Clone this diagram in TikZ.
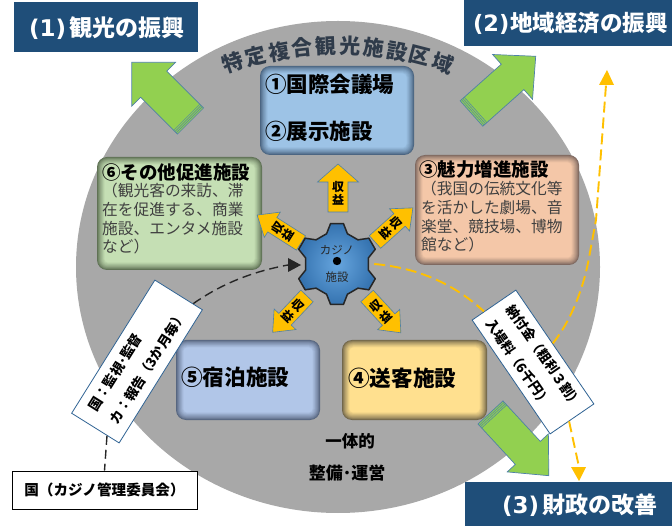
\documentclass[tikz,border=0pt]{standalone}
\usepackage{fontspec}
\setmainfont{Noto Sans CJK JP}
\newfontfamily\lat{DejaVu Sans}
\usetikzlibrary{calc}
\definecolor{navy}{HTML}{1F4E79}
\definecolor{disc}{HTML}{A8A8A8}
\definecolor{gar}{HTML}{92D050}
\definecolor{garline}{HTML}{4F81A8}
\definecolor{amber}{HTML}{FFC000}
\definecolor{slate}{HTML}{2F3B4A}
\definecolor{bodytx}{HTML}{404040}
\definecolor{labline}{HTML}{2E6293}
\definecolor{bluefill}{HTML}{9DC3E6}
\definecolor{blueedge}{HTML}{4A6480}
\definecolor{greenfill}{HTML}{C5DFB4}
\definecolor{greenedge}{HTML}{5E7054}
\definecolor{peachfill}{HTML}{F4C7A8}
\definecolor{peachedge}{HTML}{7D6860}
\definecolor{perifill}{HTML}{B1C6E8}
\definecolor{periedge}{HTML}{56647E}
\definecolor{creamfill}{HTML}{FFE08F}
\definecolor{creamedge}{HTML}{70654A}
\definecolor{gearin}{HTML}{66A5DE}
\definecolor{gearout}{HTML}{3573B0}
\newcommand{\fs}[1]{\fontsize{#1}{#1}\selectfont}
\tikzset{
  x=1pt,y=-1pt,
  banner/.style={fill=navy,draw=none},
  bannertx/.style={text=white,font=\bfseries\fs{23},inner sep=0pt,anchor=west},
  headtx/.style={text=black,font=\bfseries\fs{#1},inner sep=0pt,anchor=west},
  bodyblock/.style={text=bodytx,font=\fontsize{15.7}{18.7}\selectfont,inner sep=0pt,anchor=north west,align=left},
  labbox/.style={draw=labline,line width=0.8pt,fill=white,inner sep=0pt},
  labtx/.style={inner sep=0pt,align=left,anchor=west,font=\bfseries\fontsize{13.5}{25}\selectfont},
  dashblack/.style={draw=black!85,line width=1.4pt,dash pattern=on 9pt off 5pt},
  dashamber/.style={draw=amber,line width=1.9pt,dash pattern=on 11pt off 5pt},
}
\newcommand{\softbox}[7]{%
  \foreach \i in {0,...,10}{%
    \pgfmathsetmacro\m{100*(\i/10)^0.8}%
    \pgfmathsetmacro\d{\i*0.75}%
    \pgfmathsetmacro\rr{max(10-\i*0.6,3)}%
    \fill[#6!\m!#7,rounded corners=\rr pt] (#2+\d,#3+\d) rectangle (#4-\d,#5-\d);
  }%
  \coordinate (#1) at ({(#2+#4)/2},{(#3+#5)/2});
}
\newcommand{\garrow}[5]{%
  \begin{scope}[shift={(#1)},rotate=#2]
    \pgfmathsetmacro\nk{#3-31}
    \draw[fill=gar,draw=garline,line width=0.7pt,line join=miter]
      (0,-#4) -- (\nk,-#4) -- (\nk,-#5) -- (#3,0) -- (\nk,#5) -- (\nk,#4) -- (0,#4) -- cycle;
    \draw[garline,line width=0.5pt] (1.8,-#4) -- (1.8,#4) (3.6,-#4) -- (3.6,#4) (5.4,-#4) -- (5.4,#4);
  \end{scope}
}
\newcommand{\yarrow}[9]{%
  \begin{scope}[shift={(#2)},rotate=#3]
    \pgfmathsetmacro\nk{#4-18}
    \draw[fill=amber,draw=garline,line width=0.6pt]
      (0,-#5) -- (\nk,-#5) -- (\nk,-#6) -- (#4,0) -- (\nk,#6) -- (\nk,#5) -- (0,#5) -- cycle;
    \node[rotate=#7,inner sep=0pt,font=\bfseries\fs{12}] (#1a) at (#8,0) {収};
    \node[rotate=#7,inner sep=0pt,font=\bfseries\fs{12}] (#1b) at (#9,0) {益};
  \end{scope}
}
\begin{document}
\begin{tikzpicture}
\useasboundingbox (0,0) rectangle (672,526);
\fill[disc] (338,267) ellipse [x radius=262,y radius=246];
\foreach \c [count=\n from 0] in {特,定,複,合,観,光,施,設,区,域}{
  \pgfmathsetmacro\a{-18.5+\n*37/9}
  \node[rotate=-\a,text=slate,font=\bfseries\fs{21},inner sep=0pt] (ttl\n) at ({338+330*sin(\a)},{376-330*cos(\a)}) {\c};
}
\fill[banner] (14,2) rectangle (198,52);
\node[bannertx] (b1) at (29,28) {{\lat (1)}\hspace{3pt}観光の振興};
\fill[banner] (464,0) rectangle (672,46);
\node[bannertx,font=\bfseries\fs{22.5}] (b2) at (473,23) {{\lat (2)}\hspace{1pt}地域経済の振興};
\fill[banner] (465,482) rectangle (672,526);
\node[bannertx] (b3) at (502,505) {{\lat (3)}\hspace{3pt}財政の改善};
\softbox{boxa}{260}{66}{414}{155}{bluefill}{blueedge}
\softbox{boxf}{97}{157}{262}{270}{greenfill}{greenedge}
\softbox{boxc}{415}{155}{579}{265}{peachfill}{peachedge}
\softbox{boxe}{176}{340}{320}{420}{perifill}{periedge}
\softbox{boxd}{342}{340}{487}{420}{creamfill}{creamedge}
\node[headtx=21.5] (t1) at (265,84) {①国際会議場};
\node[headtx=21.5] (t2) at (265,131) {②展示施設};
\node[headtx=18.5] (t6) at (102,172) {⑥その他促進施設};
\node[bodyblock] (t6b) at (102,183) {（観光客の来訪、滞\\在を促進する、商業\\施設、エンタメ施設\\など）};
\node[headtx=18.5] (t3) at (419,169) {③魅力増進施設};
\node[bodyblock] (t3b) at (421,181) {（我国の伝統文化等\\を活かした劇場、音\\楽堂、競技場、博物\\館など）};
\node[headtx=21.6] (t5) at (181,377) {⑤宿泊施設};
\node[headtx=21.6] (t4) at (348,378) {④送客施設};
\node[headtx=16.5,anchor=east] (t7) at (375,441) {一体的};
\node[headtx=17,anchor=center] (t8) at (347,473) {整備･運営};
\garrow{190.5,121}{135}{83}{18.5}{31}
\garrow{471.5,113.5}{41.7}{86}{17}{30}
\garrow{490.5,412.5}{-47.3}{86}{17}{28}
\yarrow{up}{338,212}{90}{48}{10}{20.5}{0}{25}{12}
\yarrow{ne}{375,242}{42}{51}{8.5}{15}{-48}{28}{14.5}
\yarrow{nw}{301,243}{147.5}{52}{8.5}{15}{57.5}{27.5}{15.5}
\yarrow{sw}{307,296}{226.6}{50}{8.5}{15}{-43.4}{13.5}{28}
\yarrow{se}{367,296}{-47.4}{50}{8.5}{15}{42.6}{13.5}{28}
\begin{scope}[shift={(337,264)}]
  \shade[inner color=gearin, outer color=gearout]
    (71:32) \foreach \a in {90,150,210,270,330,30}{ -- (\a-9:41) -- (\a+9:41) -- (\a+19:32) -- (\a+41:32)} -- cycle;
  \draw[black!85,line width=1.5pt,line join=round]
    (71:32) \foreach \a in {90,150,210,270,330,30}{ -- (\a-9:41) -- (\a+9:41) -- (\a+19:32) -- (\a+41:32)} -- cycle;
\end{scope}
\node[circle,minimum size=74pt,inner sep=0pt] (gear) at (337,264) {};
\fill[black] (337,261) circle (4.2);
\node[font=\fs{11.5},text=black!85,inner sep=0pt] (g1) at (337,250) {カジノ};
\node[font=\fs{11.5},text=black!85,inner sep=0pt] (g2) at (337,277) {施設};
\node[labbox,rotate=58,minimum width=157pt,minimum height=56pt] (kanshi) at (137,361.5) {};
\node[labtx,rotate=58] (kanshit) at (102.8,416.2) {国：監視･監督\\カ：報告（3か月毎）};
\node[labbox,rotate=-55.6,minimum width=138pt,minimum height=53pt] (nofu) at (533,362) {};
\node[labtx,rotate=-55.6] (nofut) at (499.7,313.3) {納付金（粗利３割）\\入場料（6千円）};
\node[draw=black,line width=0.8pt,fill=white,minimum width=185pt,minimum height=38pt,inner sep=0pt,font=\bfseries\fs{14.6}] (kuni) at (104.5,490) {国（カジノ管理委員会）};
\draw[dashblack] ($(kanshi.north east)!0.8!(kanshi.south east)$) .. controls (220,285) and (250,272) .. (288,265);
\fill[black!85] (288,258) -- (301,265) -- (288,272) -- cycle;
\draw[dashblack] ($(kanshi.north west)!0.745!(kanshi.south west)$) -- (kuni.north);
\draw[dashamber] (gear.east) .. controls (420,268) and (455,285) .. ($(nofu.north west)!0.72!(nofu.south west)$);
\draw[dashamber] ($(nofu.north west)!0.47!(nofu.north east)$) .. controls (570,322) and (582,292) .. (588,263) -- (596,220) -- (606,85);
\fill[amber] (599,85) -- (614,85) -- (607,70) -- cycle;
\draw[dashamber] ($(nofu.south east)!0.43!(nofu.north east)$) -- (579,467);
\fill[amber] (571,467) -- (586,467) -- (579,481) -- cycle;
\end{tikzpicture}
\end{document}
